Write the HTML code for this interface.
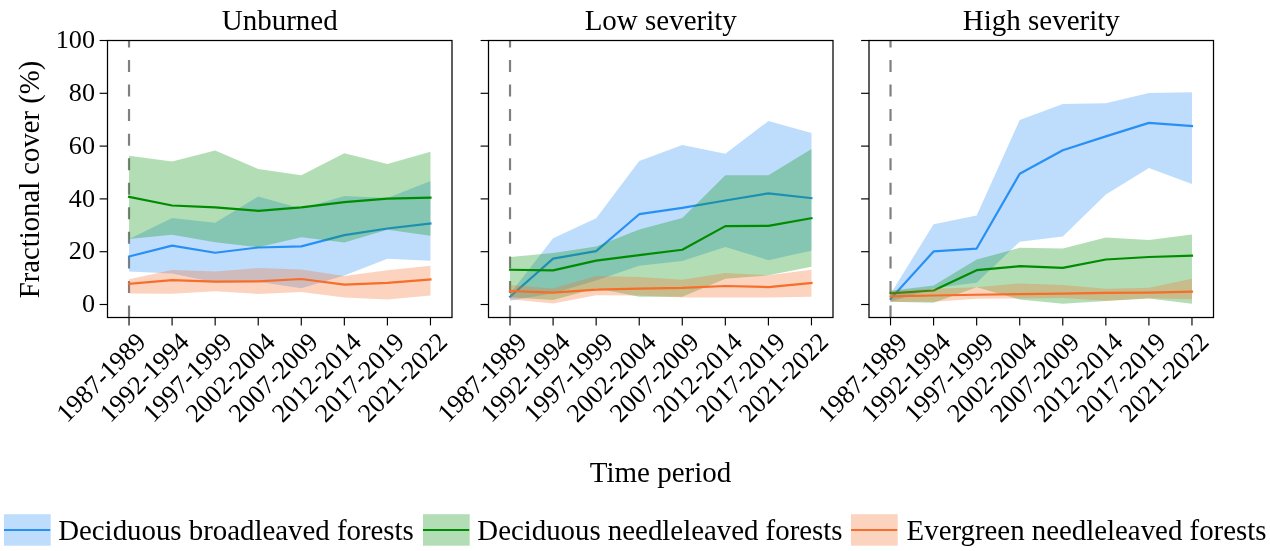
<!DOCTYPE html>
<html><head><meta charset="utf-8"><title>Fractional cover</title>
<style>html,body{margin:0;padding:0;background:#fff;}body{width:1270px;height:551px;position:relative;overflow:hidden;font-family:"Liberation Serif",serif;}</style>
</head><body>
<svg width="1270" height="551" viewBox="0 0 1270 551" style="position:absolute;left:0;top:0;will-change:transform;font-family:'Liberation Serif',serif;">
<rect width="1270" height="551" fill="#fff"/>
<g>
<line x1="129.03" y1="317.5" x2="129.03" y2="40.5" stroke="#808080" stroke-width="2.2" stroke-dasharray="12.0 12.55"/>
<polygon points="129.03,239.03 172.09,217.91 215.16,222.66 258.22,196.52 301.28,208.40 344.34,196.00 387.41,198.11 430.47,180.95 430.47,260.68 387.41,258.83 344.34,275.46 301.28,288.13 258.22,281.80 215.16,282.46 172.09,273.61 129.03,271.50" fill="#2890f5" fill-opacity="0.3"/>
<polyline points="129.03,256.45 172.09,245.63 215.16,252.76 258.22,247.48 301.28,246.42 344.34,235.07 387.41,228.47 430.47,223.45" fill="none" stroke="#2890f5" stroke-width="2.2" stroke-linejoin="round" stroke-linecap="square"/>
<polygon points="129.03,155.87 172.09,161.41 215.16,150.59 258.22,169.07 301.28,175.14 344.34,153.23 387.41,164.05 430.47,151.64 430.47,235.86 387.41,229.79 344.34,242.46 301.28,237.18 258.22,247.21 215.16,242.20 172.09,234.80 129.03,239.03" fill="#04910a" fill-opacity="0.3"/>
<polyline points="129.03,196.79 172.09,205.50 215.16,207.35 258.22,210.78 301.28,207.35 344.34,202.07 387.41,198.64 430.47,197.58" fill="none" stroke="#008c00" stroke-width="2.2" stroke-linejoin="round" stroke-linecap="square"/>
<polygon points="129.03,279.16 172.09,269.92 215.16,271.50 258.22,268.07 301.28,269.39 344.34,275.99 387.41,270.18 430.47,265.69 430.47,295.52 387.41,299.62 344.34,297.50 301.28,292.09 258.22,293.94 215.16,291.30 172.09,293.68 129.03,293.41" fill="#f56e2a" fill-opacity="0.3"/>
<polyline points="129.03,283.91 172.09,280.21 215.16,281.53 258.22,281.40 301.28,279.02 344.34,284.70 387.41,282.85 430.47,279.42" fill="none" stroke="#f56e2a" stroke-width="2.2" stroke-linejoin="round" stroke-linecap="square"/>
<rect x="107.5" y="40.5" width="344.5" height="277.0" fill="none" stroke="#000" stroke-width="1.25"/>
<line x1="129.03" y1="317.5" x2="129.03" y2="325.4" stroke="#000" stroke-width="1.15"/>
<line x1="172.09" y1="317.5" x2="172.09" y2="325.4" stroke="#000" stroke-width="1.15"/>
<line x1="215.16" y1="317.5" x2="215.16" y2="325.4" stroke="#000" stroke-width="1.15"/>
<line x1="258.22" y1="317.5" x2="258.22" y2="325.4" stroke="#000" stroke-width="1.15"/>
<line x1="301.28" y1="317.5" x2="301.28" y2="325.4" stroke="#000" stroke-width="1.15"/>
<line x1="344.34" y1="317.5" x2="344.34" y2="325.4" stroke="#000" stroke-width="1.15"/>
<line x1="387.41" y1="317.5" x2="387.41" y2="325.4" stroke="#000" stroke-width="1.15"/>
<line x1="430.47" y1="317.5" x2="430.47" y2="325.4" stroke="#000" stroke-width="1.15"/>
<line x1="99.6" y1="304.50" x2="107.5" y2="304.50" stroke="#000" stroke-width="1.15"/>
<text x="95.00" y="312.20" font-size="26.2" text-anchor="end">0</text>
<line x1="99.6" y1="251.70" x2="107.5" y2="251.70" stroke="#000" stroke-width="1.15"/>
<text x="95.00" y="259.40" font-size="26.2" text-anchor="end">20</text>
<line x1="99.6" y1="198.90" x2="107.5" y2="198.90" stroke="#000" stroke-width="1.15"/>
<text x="95.00" y="206.60" font-size="26.2" text-anchor="end">40</text>
<line x1="99.6" y1="146.10" x2="107.5" y2="146.10" stroke="#000" stroke-width="1.15"/>
<text x="95.00" y="153.80" font-size="26.2" text-anchor="end">60</text>
<line x1="99.6" y1="93.30" x2="107.5" y2="93.30" stroke="#000" stroke-width="1.15"/>
<text x="95.00" y="101.00" font-size="26.2" text-anchor="end">80</text>
<line x1="99.6" y1="40.50" x2="107.5" y2="40.50" stroke="#000" stroke-width="1.15"/>
<text x="95.00" y="48.20" font-size="26.2" text-anchor="end">100</text>
<text transform="translate(132.53,328.55) rotate(-45)" x="0" y="20.96" font-size="26.2" text-anchor="end">1987-1989</text>
<text transform="translate(175.59,328.55) rotate(-45)" x="0" y="20.96" font-size="26.2" text-anchor="end">1992-1994</text>
<text transform="translate(218.66,328.55) rotate(-45)" x="0" y="20.96" font-size="26.2" text-anchor="end">1997-1999</text>
<text transform="translate(261.72,328.55) rotate(-45)" x="0" y="20.96" font-size="26.2" text-anchor="end">2002-2004</text>
<text transform="translate(304.78,328.55) rotate(-45)" x="0" y="20.96" font-size="26.2" text-anchor="end">2007-2009</text>
<text transform="translate(347.84,328.55) rotate(-45)" x="0" y="20.96" font-size="26.2" text-anchor="end">2012-2014</text>
<text transform="translate(390.91,328.55) rotate(-45)" x="0" y="20.96" font-size="26.2" text-anchor="end">2017-2019</text>
<text transform="translate(433.97,328.55) rotate(-45)" x="0" y="20.96" font-size="26.2" text-anchor="end">2021-2022</text>
<text x="279.75" y="29.9" font-size="29.0" text-anchor="middle">Unburned</text>
</g>
<g>
<line x1="510.03" y1="317.5" x2="510.03" y2="40.5" stroke="#808080" stroke-width="2.2" stroke-dasharray="12.0 12.55"/>
<polygon points="510.03,293.81 553.09,238.24 596.16,218.17 639.22,160.88 682.28,145.04 725.34,153.76 768.41,121.02 811.47,132.90 811.47,250.64 768.41,260.15 725.34,246.95 682.28,261.07 639.22,265.82 596.16,280.48 553.09,293.15 510.03,300.67" fill="#2890f5" fill-opacity="0.3"/>
<polyline points="510.03,296.71 553.09,258.56 596.16,251.17 639.22,214.21 682.28,207.88 725.34,200.48 768.41,193.36 811.47,198.11" fill="none" stroke="#2890f5" stroke-width="2.2" stroke-linejoin="round" stroke-linecap="square"/>
<polygon points="510.03,256.98 553.09,253.02 596.16,246.42 639.22,229.52 682.28,217.91 725.34,175.14 768.41,175.14 811.47,149.00 811.47,266.75 768.41,275.33 725.34,278.63 682.28,296.84 639.22,296.84 596.16,288.13 553.09,300.01 510.03,297.37" fill="#04910a" fill-opacity="0.3"/>
<polyline points="510.03,269.78 553.09,270.44 596.16,260.68 639.22,255.13 682.28,249.72 725.34,226.09 768.41,225.83 811.47,218.17" fill="none" stroke="#008c00" stroke-width="2.2" stroke-linejoin="round" stroke-linecap="square"/>
<polygon points="510.03,285.10 553.09,288.40 596.16,275.99 639.22,277.04 682.28,279.68 725.34,272.95 768.41,275.33 811.47,269.65 811.47,296.84 768.41,297.50 725.34,297.50 682.28,297.50 639.22,295.39 596.16,295.13 553.09,303.44 510.03,299.22" fill="#f56e2a" fill-opacity="0.3"/>
<polyline points="510.03,291.04 553.09,292.62 596.16,289.72 639.22,288.53 682.28,287.87 725.34,286.02 768.41,287.08 811.47,282.98" fill="none" stroke="#f56e2a" stroke-width="2.2" stroke-linejoin="round" stroke-linecap="square"/>
<rect x="488.5" y="40.5" width="344.5" height="277.0" fill="none" stroke="#000" stroke-width="1.25"/>
<line x1="510.03" y1="317.5" x2="510.03" y2="325.4" stroke="#000" stroke-width="1.15"/>
<line x1="553.09" y1="317.5" x2="553.09" y2="325.4" stroke="#000" stroke-width="1.15"/>
<line x1="596.16" y1="317.5" x2="596.16" y2="325.4" stroke="#000" stroke-width="1.15"/>
<line x1="639.22" y1="317.5" x2="639.22" y2="325.4" stroke="#000" stroke-width="1.15"/>
<line x1="682.28" y1="317.5" x2="682.28" y2="325.4" stroke="#000" stroke-width="1.15"/>
<line x1="725.34" y1="317.5" x2="725.34" y2="325.4" stroke="#000" stroke-width="1.15"/>
<line x1="768.41" y1="317.5" x2="768.41" y2="325.4" stroke="#000" stroke-width="1.15"/>
<line x1="811.47" y1="317.5" x2="811.47" y2="325.4" stroke="#000" stroke-width="1.15"/>
<line x1="480.6" y1="304.50" x2="488.5" y2="304.50" stroke="#000" stroke-width="1.15"/>
<line x1="480.6" y1="251.70" x2="488.5" y2="251.70" stroke="#000" stroke-width="1.15"/>
<line x1="480.6" y1="198.90" x2="488.5" y2="198.90" stroke="#000" stroke-width="1.15"/>
<line x1="480.6" y1="146.10" x2="488.5" y2="146.10" stroke="#000" stroke-width="1.15"/>
<line x1="480.6" y1="93.30" x2="488.5" y2="93.30" stroke="#000" stroke-width="1.15"/>
<line x1="480.6" y1="40.50" x2="488.5" y2="40.50" stroke="#000" stroke-width="1.15"/>
<text transform="translate(513.53,328.55) rotate(-45)" x="0" y="20.96" font-size="26.2" text-anchor="end">1987-1989</text>
<text transform="translate(556.59,328.55) rotate(-45)" x="0" y="20.96" font-size="26.2" text-anchor="end">1992-1994</text>
<text transform="translate(599.66,328.55) rotate(-45)" x="0" y="20.96" font-size="26.2" text-anchor="end">1997-1999</text>
<text transform="translate(642.72,328.55) rotate(-45)" x="0" y="20.96" font-size="26.2" text-anchor="end">2002-2004</text>
<text transform="translate(685.78,328.55) rotate(-45)" x="0" y="20.96" font-size="26.2" text-anchor="end">2007-2009</text>
<text transform="translate(728.84,328.55) rotate(-45)" x="0" y="20.96" font-size="26.2" text-anchor="end">2012-2014</text>
<text transform="translate(771.91,328.55) rotate(-45)" x="0" y="20.96" font-size="26.2" text-anchor="end">2017-2019</text>
<text transform="translate(814.97,328.55) rotate(-45)" x="0" y="20.96" font-size="26.2" text-anchor="end">2021-2022</text>
<text x="660.75" y="29.9" font-size="29.0" text-anchor="middle">Low severity</text>
</g>
<g>
<line x1="890.53" y1="317.5" x2="890.53" y2="40.5" stroke="#808080" stroke-width="2.2" stroke-dasharray="12.0 12.55"/>
<polygon points="890.53,293.94 933.59,224.24 976.66,215.53 1019.72,119.96 1062.78,104.12 1105.84,103.33 1148.91,93.04 1191.97,92.24 1191.97,184.12 1148.91,168.01 1105.84,194.41 1062.78,236.39 1019.72,241.67 976.66,282.72 933.59,288.13 890.53,301.86" fill="#2890f5" fill-opacity="0.3"/>
<polyline points="890.53,298.96 933.59,251.44 976.66,248.53 1019.72,173.82 1062.78,150.32 1105.84,136.33 1148.91,122.87 1191.97,126.04" fill="none" stroke="#2890f5" stroke-width="2.2" stroke-linejoin="round" stroke-linecap="square"/>
<polygon points="890.53,290.64 933.59,285.49 976.66,259.62 1019.72,247.87 1062.78,248.53 1105.84,237.58 1148.91,239.95 1191.97,234.41 1191.97,303.71 1148.91,298.43 1105.84,301.07 1062.78,303.71 1019.72,299.48 976.66,287.21 933.59,302.65 890.53,301.86" fill="#04910a" fill-opacity="0.3"/>
<polyline points="890.53,293.41 933.59,290.51 976.66,270.18 1019.72,266.22 1062.78,267.80 1105.84,259.49 1148.91,256.98 1191.97,255.66" fill="none" stroke="#008c00" stroke-width="2.2" stroke-linejoin="round" stroke-linecap="square"/>
<polygon points="890.53,291.30 933.59,288.66 976.66,287.34 1019.72,283.38 1062.78,285.10 1105.84,288.79 1148.91,287.87 1191.97,278.63 1191.97,299.35 1148.91,298.16 1105.84,300.80 1062.78,297.90 1019.72,298.43 976.66,298.82 933.59,301.86 890.53,302.12" fill="#f56e2a" fill-opacity="0.3"/>
<polyline points="890.53,296.32 933.59,295.52 976.66,294.73 1019.72,294.20 1062.78,293.68 1105.84,292.88 1148.91,292.62 1191.97,291.70" fill="none" stroke="#f56e2a" stroke-width="2.2" stroke-linejoin="round" stroke-linecap="square"/>
<rect x="869.0" y="40.5" width="344.5" height="277.0" fill="none" stroke="#000" stroke-width="1.25"/>
<line x1="890.53" y1="317.5" x2="890.53" y2="325.4" stroke="#000" stroke-width="1.15"/>
<line x1="933.59" y1="317.5" x2="933.59" y2="325.4" stroke="#000" stroke-width="1.15"/>
<line x1="976.66" y1="317.5" x2="976.66" y2="325.4" stroke="#000" stroke-width="1.15"/>
<line x1="1019.72" y1="317.5" x2="1019.72" y2="325.4" stroke="#000" stroke-width="1.15"/>
<line x1="1062.78" y1="317.5" x2="1062.78" y2="325.4" stroke="#000" stroke-width="1.15"/>
<line x1="1105.84" y1="317.5" x2="1105.84" y2="325.4" stroke="#000" stroke-width="1.15"/>
<line x1="1148.91" y1="317.5" x2="1148.91" y2="325.4" stroke="#000" stroke-width="1.15"/>
<line x1="1191.97" y1="317.5" x2="1191.97" y2="325.4" stroke="#000" stroke-width="1.15"/>
<line x1="861.1" y1="304.50" x2="869.0" y2="304.50" stroke="#000" stroke-width="1.15"/>
<line x1="861.1" y1="251.70" x2="869.0" y2="251.70" stroke="#000" stroke-width="1.15"/>
<line x1="861.1" y1="198.90" x2="869.0" y2="198.90" stroke="#000" stroke-width="1.15"/>
<line x1="861.1" y1="146.10" x2="869.0" y2="146.10" stroke="#000" stroke-width="1.15"/>
<line x1="861.1" y1="93.30" x2="869.0" y2="93.30" stroke="#000" stroke-width="1.15"/>
<line x1="861.1" y1="40.50" x2="869.0" y2="40.50" stroke="#000" stroke-width="1.15"/>
<text transform="translate(894.03,328.55) rotate(-45)" x="0" y="20.96" font-size="26.2" text-anchor="end">1987-1989</text>
<text transform="translate(937.09,328.55) rotate(-45)" x="0" y="20.96" font-size="26.2" text-anchor="end">1992-1994</text>
<text transform="translate(980.16,328.55) rotate(-45)" x="0" y="20.96" font-size="26.2" text-anchor="end">1997-1999</text>
<text transform="translate(1023.22,328.55) rotate(-45)" x="0" y="20.96" font-size="26.2" text-anchor="end">2002-2004</text>
<text transform="translate(1066.28,328.55) rotate(-45)" x="0" y="20.96" font-size="26.2" text-anchor="end">2007-2009</text>
<text transform="translate(1109.34,328.55) rotate(-45)" x="0" y="20.96" font-size="26.2" text-anchor="end">2012-2014</text>
<text transform="translate(1152.41,328.55) rotate(-45)" x="0" y="20.96" font-size="26.2" text-anchor="end">2017-2019</text>
<text transform="translate(1195.47,328.55) rotate(-45)" x="0" y="20.96" font-size="26.2" text-anchor="end">2021-2022</text>
<text x="1041.25" y="29.9" font-size="29.0" text-anchor="middle">High severity</text>
</g>
<text transform="translate(39.4,179.50) rotate(-90)" font-size="28.7" text-anchor="middle">Fractional cover (%)</text>
<text x="660.5" y="481.9" font-size="29.0" text-anchor="middle">Time period</text>
<rect x="4.0" y="514.2" width="46.7" height="31.5" fill="#2890f5" fill-opacity="0.3"/>
<line x1="4.0" y1="530" x2="50.2" y2="530" stroke="#2890f5" stroke-width="2.05"/>
<text x="58.2" y="539.5" font-size="28.85">Deciduous broadleaved forests</text>
<rect x="423.0" y="514.2" width="46.7" height="31.5" fill="#04910a" fill-opacity="0.3"/>
<line x1="423.0" y1="530" x2="469.2" y2="530" stroke="#008c00" stroke-width="2.05"/>
<text x="477.3" y="539.5" font-size="28.85">Deciduous needleleaved forests</text>
<rect x="851.0" y="514.2" width="46.7" height="31.5" fill="#f56e2a" fill-opacity="0.3"/>
<line x1="851.0" y1="530" x2="897.2" y2="530" stroke="#f56e2a" stroke-width="2.05"/>
<text x="906.6" y="539.5" font-size="28.85">Evergreen needleleaved forests</text>
</svg>
</body></html>
